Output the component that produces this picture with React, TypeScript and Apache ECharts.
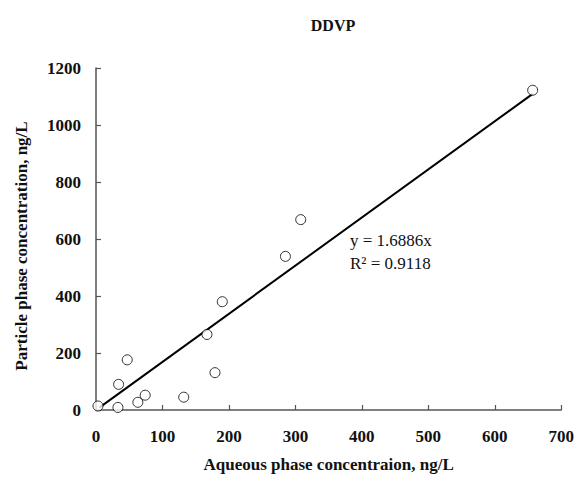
import React, { useEffect, useRef } from "react";
import * as echarts from "echarts";

const aqueous = [3, 33, 34, 47, 63, 74, 132, 167, 179, 190, 285, 308, 657];
const particle = [14, 9, 90, 176, 27, 52, 45, 265, 131, 380, 539, 668, 1122];
const slope = 1.6886;
const r2 = 0.9118;
const fitRange = [5, 657];
const xTicks = [0, 100, 200, 300, 400, 500, 600, 700];
const yTicks = [0, 200, 400, 600, 800, 1000, 1200];

const FONT = "'Liberation Serif', 'Times New Roman', serif";

export default function App() {
  const ref = useRef<HTMLDivElement>(null);
  useEffect(() => {
    if (!ref.current) return;
    const chart = echarts.init(ref.current, undefined, { renderer: "svg" });
    const points = aqueous.map((x, i) => [x, particle[i]]);
    const fit = fitRange.map((x) => [x, slope * x]);
    chart.setOption({
      animation: false,
      backgroundColor: "#ffffff",
      title: {
        text: "DDVP",
        left: 328,
        top: 12,
        textAlign: "center",
        textStyle: { fontFamily: FONT, fontWeight: "bold", fontSize: 16, color: "#111" },
      },
      grid: { left: 96, right: 15, top: 68, bottom: 69 },
      xAxis: {
        type: "value",
        min: xTicks[0],
        max: xTicks[xTicks.length - 1],
        interval: 100,
        name: "Aqueous phase concentraion, ng/L",
        nameLocation: "middle",
        nameGap: 46,
        nameTextStyle: { fontFamily: FONT, fontWeight: "bold", fontSize: 17, color: "#111" },
        axisLine: { show: true, lineStyle: { color: "#555", width: 1.5 } },
        axisTick: { show: true, inside: true, length: 5, lineStyle: { color: "#555", width: 1.2 } },
        axisLabel: { fontFamily: FONT, fontWeight: "bold", fontSize: 17, color: "#111", margin: 18 },
        splitLine: { show: false },
      },
      yAxis: {
        type: "value",
        min: yTicks[0],
        max: yTicks[yTicks.length - 1],
        interval: 200,
        axisLine: { show: true, lineStyle: { color: "#555", width: 1.5 } },
        axisTick: { show: true, inside: true, length: 5, lineStyle: { color: "#555", width: 1.2 } },
        axisLabel: {
          fontFamily: FONT,
          fontWeight: "bold",
          fontSize: 17,
          color: "#111",
          margin: 15,
          formatter: (v: number) => String(v),
        },
        splitLine: { show: false },
      },
      series: [
        {
          type: "line",
          data: fit,
          symbol: "none",
          lineStyle: { color: "#000", width: 2 },
          z: 1,
        },
        {
          type: "scatter",
          data: points,
          symbol: "circle",
          symbolSize: 10,
          itemStyle: { color: "#fff", borderColor: "#000", borderWidth: 1 },
          z: 3,
        },
      ],
      graphic: [
        {
          type: "text",
          x: 21,
          y: 246,
          rotation: Math.PI / 2,
          style: {
            text: "Particle phase concentration, ng/L",
            font: `bold 17px ${FONT}`,
            fill: "#111",
            textAlign: "center",
            textVerticalAlign: "middle",
          },
        },
        {
          type: "text",
          left: 350,
          top: 232,
          style: { text: `y = ${slope}x`, font: `17px ${FONT}`, fill: "#111" },
        },
        {
          type: "text",
          left: 350,
          top: 255,
          style: { text: `R² = ${r2}`, font: `17px ${FONT}`, fill: "#111" },
        },
      ],
    });
    return () => chart.dispose();
  }, []);
  return <div ref={ref} style={{ width: 577, height: 479, position: "absolute", left: 0, top: 0 }} />;
}
